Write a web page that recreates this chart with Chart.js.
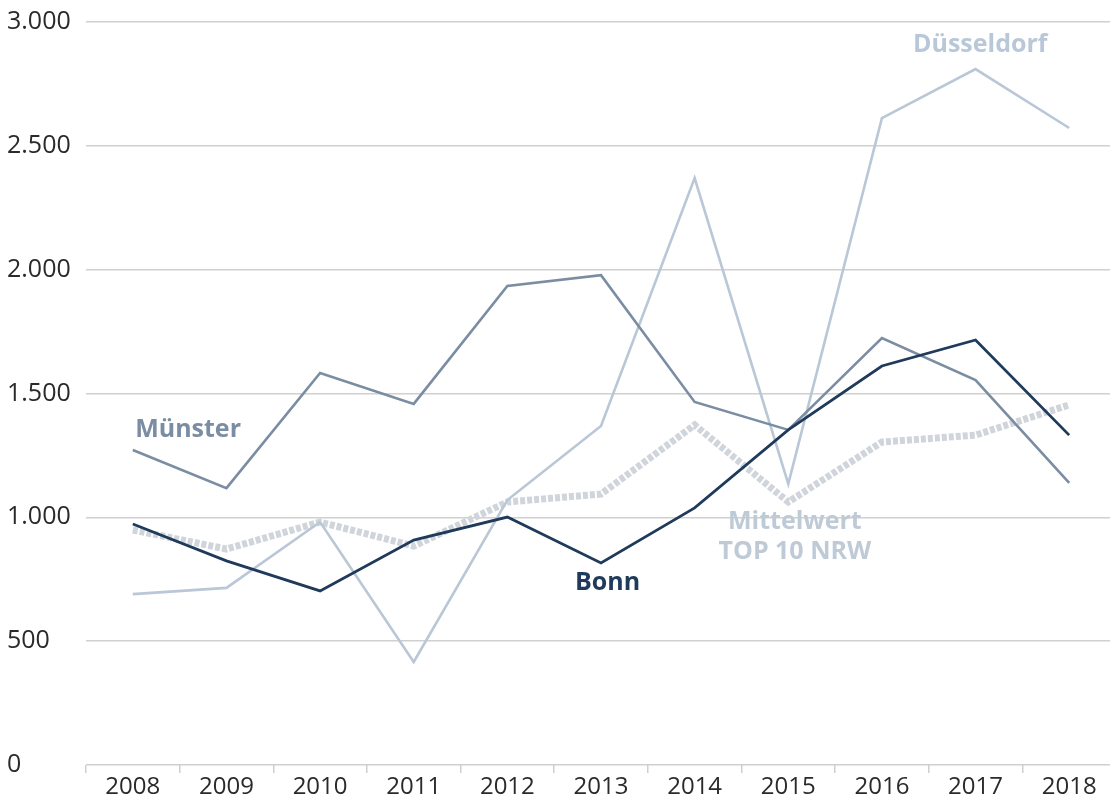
<!DOCTYPE html>
<html>
<head>
<meta charset="utf-8">
<script src="https://cdn.jsdelivr.net/npm/chart.js@4"></script>
<style>
  html, body { margin: 0; padding: 0; background: #fff; overflow: hidden; }
  #box { width: 1116px; height: 802px; position: relative; }
</style>
</head>
<body>
<div id="box"><canvas id="grafico"></canvas></div>
<script>
var jahre = ['2008', '2009', '2010', '2011', '2012', '2013', '2014', '2015', '2016', '2017', '2018']
var muenster = [1272, 1118, 1583, 1458, 1934, 1978, 1466, 1353, 1724, 1554, 1139]
var bonn = [973, 824, 703, 908, 1001, 816, 1038, 1353, 1611, 1716, 1332]
var duesseldorf = [690, 715, 981, 416, 1070, 1369, 2370, 1135, 2612, 2810, 2572]
var mittelwert = [949, 872, 981, 884, 1062, 1094, 1373, 1062, 1304, 1332, 1454]
var yTicks = [0, 500, 1000, 1500, 2000, 2500, 3000]

// Beschriftungen an den Linien (Kategorie-Index, Wert)
var beschriftungen = [
  { text: 'Münster', x: 0.59, y: 1353, color: '#7b8da2' },
  { text: 'Bonn', x: 5.07, y: 735, color: '#1f3a5a' },
  { text: 'Düsseldorf', x: 9.05, y: 2907, color: '#b9c8d8' },
  { text: 'Mittelwert', x: 7.07, y: 981, color: '#bfcad7' },
  { text: 'TOP 10 NRW', x: 7.07, y: 860, color: '#bfcad7' }
]

const textPlugin = {
  id: 'textPlugin',
  afterDatasetsDraw(chart) {
    const ctx = chart.ctx
    const xs = chart.scales.x
    const ys = chart.scales.y
    const x0 = xs.getPixelForValue(0)
    const step = xs.getPixelForValue(1) - x0
    ctx.save()
    ctx.font = 'bold 25px "Open Sans"'
    ctx.textAlign = 'center'
    ctx.textBaseline = 'middle'
    beschriftungen.forEach(b => {
      ctx.fillStyle = b.color
      ctx.fillText(b.text, x0 + b.x * step, ys.getPixelForValue(b.y))
    })
    ctx.restore()
  }
}

Chart.defaults.font.family = '"Open Sans"'

var grafico = new Chart(document.getElementById('grafico'), {
  type: 'line',
  data: {
    labels: jahre,
    datasets: [
      { label: 'Bonn', data: bonn, borderColor: '#1f3a5a', borderWidth: 2.8, order: 0 },
      { label: 'Münster', data: muenster, borderColor: '#7b8da2', borderWidth: 2.6, order: 1 },
      { label: 'Düsseldorf', data: duesseldorf, borderColor: '#b9c7d6', borderWidth: 2.6, order: 2 },
      { label: 'Mittelwert TOP 10 NRW', data: mittelwert, borderColor: '#d0d5db', borderWidth: 7, borderDash: [5, 2], borderCapStyle: 'butt', order: 3 }
    ]
  },
  options: {
    responsive: true,
    maintainAspectRatio: false,
    animation: false,
    elements: { point: { radius: 0 }, line: { tension: 0 } },
    layout: { padding: { top: 22, left: 7, right: 0, bottom: 0 } },
    plugins: { legend: { display: false }, tooltip: { enabled: false } },
    scales: {
      x: {
        offset: true,
        grid: { offset: true, drawOnChartArea: false, drawTicks: true, tickLength: 8, color: '#cfcfcf', lineWidth: 1.5 },
        border: { display: false },
        ticks: { color: '#2a2a2a', font: { size: 24 }, padding: 0, maxRotation: 0 },
        afterFit: s => { s.height = 37 }
      },
      y: {
        min: 0,
        max: 3000,
        afterBuildTicks: s => { s.ticks = yTicks.map(v => ({ value: v })) },
        grid: { color: '#d0d0d0', lineWidth: 1.5, drawTicks: false },
        border: { display: false },
        ticks: {
          color: '#2a2a2a',
          font: { size: 25 },
          crossAlign: 'far',
          padding: 14,
          callback: v => v.toLocaleString('de-DE')
        },
        afterFit: s => { s.width = 79; s.paddingTop = 0; s.paddingBottom = 0 }
      }
    }
  },
  plugins: [textPlugin]
})
</script>
</body>
</html>
